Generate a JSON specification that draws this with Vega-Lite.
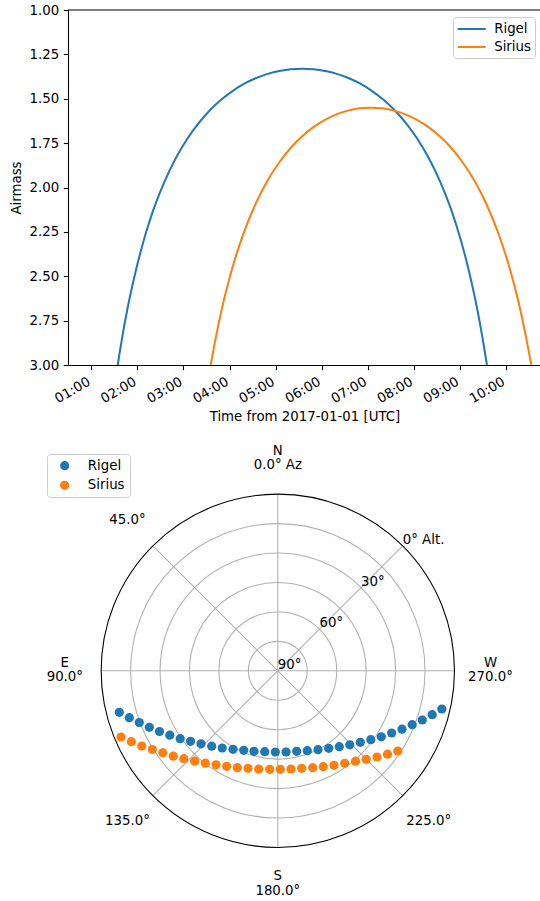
{
  "$schema": "https://vega.github.io/schema/vega-lite/v6.json",
  "padding": {"left": 9, "top": 3, "right": 0, "bottom": 0},
  "background": "white",
  "spacing": 75,
  "bounds": "flush",
  "config": {
    "view": {"stroke": null},
    "font": "DejaVu Sans",
    "axis": {"labelFont": "DejaVu Sans", "titleFont": "DejaVu Sans", "labelFontSize": 13.33, "titleFontSize": 13.33, "titleFontWeight": "normal", "labelColor": "#000", "titleColor": "#000", "domainColor": "#000", "tickColor": "#000", "domainWidth": 1.07, "tickWidth": 1.07, "tickSize": 4.67, "labelPadding": 4.67, "grid": false},
    "legend": {"labelFont": "DejaVu Sans", "labelFontSize": 13.33, "labelColor": "#000", "strokeColor": "#cccccc", "fillColor": "rgba(255,255,255,0.8)", "padding": 5, "cornerRadius": 3, "rowPadding": 5.7},
    "text": {"font": "DejaVu Sans", "fontSize": 13.33, "color": "#000"}
  },
  "resolve": {"scale": {"color": "independent"}, "legend": {"color": "independent"}},
  "vconcat": [
    {
      "width": 473,
      "height": 355,
      "layer": [
        {
          "data": {"values": [
            {"star": "Rigel", "t": 1.573, "airmass": 3.0}, {"star": "Rigel", "t": 1.63, "airmass": 2.907}, {"star": "Rigel", "t": 1.68, "airmass": 2.83}, {"star": "Rigel", "t": 1.78, "airmass": 2.689}, {"star": "Rigel", "t": 1.83, "airmass": 2.625}, {"star": "Rigel", "t": 1.98, "airmass": 2.453}, {"star": "Rigel", "t": 2.08, "airmass": 2.352}, {"star": "Rigel", "t": 2.18, "airmass": 2.261}, {"star": "Rigel", "t": 2.33, "airmass": 2.139}, {"star": "Rigel", "t": 2.48, "airmass": 2.035}, {"star": "Rigel", "t": 2.58, "airmass": 1.972}, {"star": "Rigel", "t": 2.83, "airmass": 1.837}, {"star": "Rigel", "t": 3.08, "airmass": 1.727}, {"star": "Rigel", "t": 3.33, "airmass": 1.637}, {"star": "Rigel", "t": 3.58, "airmass": 1.563}, {"star": "Rigel", "t": 3.83, "airmass": 1.503}, {"star": "Rigel", "t": 4.08, "airmass": 1.454}, {"star": "Rigel", "t": 4.33, "airmass": 1.414}, {"star": "Rigel", "t": 4.58, "airmass": 1.383}, {"star": "Rigel", "t": 4.83, "airmass": 1.36}, {"star": "Rigel", "t": 5.08, "airmass": 1.344}, {"star": "Rigel", "t": 5.33, "airmass": 1.334}, {"star": "Rigel", "t": 5.58, "airmass": 1.331}, {"star": "Rigel", "t": 5.83, "airmass": 1.334}, {"star": "Rigel", "t": 6.08, "airmass": 1.344}, {"star": "Rigel", "t": 6.33, "airmass": 1.36}, {"star": "Rigel", "t": 6.58, "airmass": 1.383}, {"star": "Rigel", "t": 6.83, "airmass": 1.414}, {"star": "Rigel", "t": 7.08, "airmass": 1.454}, {"star": "Rigel", "t": 7.33, "airmass": 1.503}, {"star": "Rigel", "t": 7.58, "airmass": 1.563}, {"star": "Rigel", "t": 7.83, "airmass": 1.637}, {"star": "Rigel", "t": 8.08, "airmass": 1.727}, {"star": "Rigel", "t": 8.33, "airmass": 1.837}, {"star": "Rigel", "t": 8.58, "airmass": 1.972}, {"star": "Rigel", "t": 8.68, "airmass": 2.035}, {"star": "Rigel", "t": 8.83, "airmass": 2.139}, {"star": "Rigel", "t": 8.98, "airmass": 2.261}, {"star": "Rigel", "t": 9.08, "airmass": 2.352}, {"star": "Rigel", "t": 9.18, "airmass": 2.453}, {"star": "Rigel", "t": 9.33, "airmass": 2.625}, {"star": "Rigel", "t": 9.38, "airmass": 2.689}, {"star": "Rigel", "t": 9.48, "airmass": 2.83}, {"star": "Rigel", "t": 9.53, "airmass": 2.907}, {"star": "Rigel", "t": 9.587, "airmass": 3.0},
            {"star": "Sirius", "t": 3.591, "airmass": 3.0}, {"star": "Sirius", "t": 3.67, "airmass": 2.888}, {"star": "Sirius", "t": 3.77, "airmass": 2.759}, {"star": "Sirius", "t": 3.87, "airmass": 2.642}, {"star": "Sirius", "t": 3.97, "airmass": 2.539}, {"star": "Sirius", "t": 4.07, "airmass": 2.445}, {"star": "Sirius", "t": 4.32, "airmass": 2.247}, {"star": "Sirius", "t": 4.57, "airmass": 2.09}, {"star": "Sirius", "t": 4.82, "airmass": 1.963}, {"star": "Sirius", "t": 5.07, "airmass": 1.862}, {"star": "Sirius", "t": 5.32, "airmass": 1.779}, {"star": "Sirius", "t": 5.57, "airmass": 1.713}, {"star": "Sirius", "t": 5.82, "airmass": 1.66}, {"star": "Sirius", "t": 6.07, "airmass": 1.619}, {"star": "Sirius", "t": 6.32, "airmass": 1.588}, {"star": "Sirius", "t": 6.57, "airmass": 1.567}, {"star": "Sirius", "t": 6.82, "airmass": 1.554}, {"star": "Sirius", "t": 7.07, "airmass": 1.55}, {"star": "Sirius", "t": 7.32, "airmass": 1.554}, {"star": "Sirius", "t": 7.57, "airmass": 1.567}, {"star": "Sirius", "t": 7.82, "airmass": 1.588}, {"star": "Sirius", "t": 8.07, "airmass": 1.619}, {"star": "Sirius", "t": 8.32, "airmass": 1.66}, {"star": "Sirius", "t": 8.57, "airmass": 1.713}, {"star": "Sirius", "t": 8.82, "airmass": 1.779}, {"star": "Sirius", "t": 9.07, "airmass": 1.862}, {"star": "Sirius", "t": 9.32, "airmass": 1.963}, {"star": "Sirius", "t": 9.57, "airmass": 2.09}, {"star": "Sirius", "t": 9.82, "airmass": 2.247}, {"star": "Sirius", "t": 10.07, "airmass": 2.445}, {"star": "Sirius", "t": 10.17, "airmass": 2.539}, {"star": "Sirius", "t": 10.27, "airmass": 2.642}, {"star": "Sirius", "t": 10.37, "airmass": 2.759}, {"star": "Sirius", "t": 10.47, "airmass": 2.888}, {"star": "Sirius", "t": 10.549, "airmass": 3.0}
          ]},
          "mark": {"type": "line", "strokeWidth": 2, "interpolate": "monotone", "clip": true},
          "encoding": {
            "x": {"field": "t", "type": "quantitative", "scale": {"domain": [0.494, 10.761], "nice": false, "zero": false},
                  "axis": {"values": [1, 2, 3, 4, 5, 6, 7, 8, 9, 10], "labelExpr": "(datum.value < 10 ? '0' : '') + datum.value + ':00'", "labelAngle": -30, "labelAlign": "right", "labelBaseline": "top", "labelOffset": -6, "labelFlush": false, "labelOverlap": false, "title": "Time from 2017-01-01 [UTC]", "titlePadding": 4}},
            "y": {"field": "airmass", "type": "quantitative", "scale": {"domain": [1, 3], "reverse": true, "nice": false, "zero": false},
                  "axis": {"values": [1, 1.25, 1.5, 1.75, 2, 2.25, 2.5, 2.75, 3], "format": ".2f", "title": "Airmass", "titlePadding": 5, "labelFlush": false}},
            "color": {"field": "star", "type": "nominal", "scale": {"domain": ["Rigel", "Sirius"], "range": ["#1f77b4", "#ff7f0e"]},
                      "legend": {"orient": "none", "legendX": 385, "legendY": 7, "title": null, "symbolType": "M-2,0H2", "symbolSize": 196, "symbolStrokeWidth": 2, "symbolOffset": 6.7, "labelOffset": 14.5, "padding": 4, "rowPadding": 3}}
          }
        },
        {
          "data": {"values": [{"a": 1}]},
          "mark": {"type": "rule", "color": "#000", "strokeWidth": 1.07},
          "encoding": {"y": {"field": "a", "type": "quantitative"}}
        }
      ]
    },
    {
      "width": 420,
      "height": 461,
      "layer": [
        {
          "data": {"values": [{"cx": 0, "cy": 0, "r": 15}, {"cx": 0, "cy": 0, "r": 30}, {"cx": 0, "cy": 0, "r": 45}, {"cx": 0, "cy": 0, "r": 60}, {"cx": 0, "cy": 0, "r": 75}]},
          "mark": {"type": "point", "shape": "circle", "filled": false, "stroke": "#b0b0b0", "strokeWidth": 1.07, "opacity": 1},
          "encoding": {
            "x": {"field": "cx", "type": "quantitative", "scale": {"domain": [-106.88, 107.08], "nice": false, "zero": false}, "axis": null},
            "y": {"field": "cy", "type": "quantitative", "scale": {"domain": [-117.27, 117.58], "nice": false, "zero": false}, "axis": null},
            "size": {"field": "r", "type": "quantitative", "scale": {"type": "pow", "exponent": 2, "domain": [0, 90], "range": [0, 124821]}, "legend": null}
          }
        },
        {
          "data": {"values": [
            {"cx": 0, "cy": 0, "ex": 0, "ey": 90}, {"cx": 0, "cy": 0, "ex": -63.64, "ey": 63.64}, {"cx": 0, "cy": 0, "ex": -90, "ey": 0}, {"cx": 0, "cy": 0, "ex": -63.64, "ey": -63.64},
            {"cx": 0, "cy": 0, "ex": 0, "ey": -90}, {"cx": 0, "cy": 0, "ex": 63.64, "ey": -63.64}, {"cx": 0, "cy": 0, "ex": 90, "ey": 0}, {"cx": 0, "cy": 0, "ex": 63.64, "ey": 63.64}
          ]},
          "mark": {"type": "rule", "color": "#b0b0b0", "strokeWidth": 1.07},
          "encoding": {
            "x": {"field": "cx", "type": "quantitative"},
            "y": {"field": "cy", "type": "quantitative"},
            "x2": {"field": "ex"},
            "y2": {"field": "ey"}
          }
        },
        {
          "data": {"values": [{"cx": 0, "cy": 0, "r": 90}]},
          "mark": {"type": "point", "shape": "circle", "filled": false, "stroke": "#000", "strokeWidth": 1.07, "opacity": 1},
          "encoding": {
            "x": {"field": "cx", "type": "quantitative"},
            "y": {"field": "cy", "type": "quantitative"},
            "size": {"field": "r", "type": "quantitative", "legend": null}
          }
        },
        {
          "data": {"values": [
            {"label": "90°", "x": 0, "y": 0}, {"label": "60°", "x": 21.21, "y": 21.21}, {"label": "30°", "x": 42.43, "y": 42.43}, {"label": "0° Alt.", "x": 63.64, "y": 63.64}
          ]},
          "mark": {"type": "text", "align": "left", "baseline": "bottom", "dy": 1},
          "encoding": {
            "x": {"field": "x", "type": "quantitative"},
            "y": {"field": "y", "type": "quantitative"},
            "text": {"field": "label"}
          }
        },
        {
          "data": {"values": [
            {"label": "N", "x": 0, "y": 112.2}, {"label": "0.0° Az", "x": 0, "y": 104.6},
            {"label": "45.0°", "x": -76.6, "y": 76.8},
            {"label": "E", "x": -108.5, "y": 4.1}, {"label": "90.0°", "x": -108.5, "y": -3.3},
            {"label": "135.0°", "x": -76.6, "y": -76.4},
            {"label": "S", "x": 0, "y": -104.5}, {"label": "180.0°", "x": 0, "y": -112.0},
            {"label": "225.0°", "x": 76.9, "y": -76.4},
            {"label": "W", "x": 108.35, "y": 4.1}, {"label": "270.0°", "x": 108.35, "y": -3.3}
          ]},
          "mark": {"type": "text", "align": "center", "baseline": "middle"},
          "encoding": {
            "x": {"field": "x", "type": "quantitative"},
            "y": {"field": "y", "type": "quantitative"},
            "text": {"field": "label"}
          }
        },
        {
          "data": {"values": [
            {"star": "Rigel", "x": -80.74, "y": -21.14}, {"star": "Rigel", "x": -75.65, "y": -23.89}, {"star": "Rigel", "x": -70.56, "y": -26.34}, {"star": "Rigel", "x": -65.46, "y": -28.78}, {"star": "Rigel", "x": -60.26, "y": -30.92}, {"star": "Rigel", "x": -55.02, "y": -32.81}, {"star": "Rigel", "x": -49.72, "y": -34.59}, {"star": "Rigel", "x": -44.47, "y": -35.91}, {"star": "Rigel", "x": -39.12, "y": -37.19}, {"star": "Rigel", "x": -33.67, "y": -38.41}, {"star": "Rigel", "x": -28.32, "y": -39.33}, {"star": "Rigel", "x": -22.82, "y": -39.99}, {"star": "Rigel", "x": -17.37, "y": -40.5}, {"star": "Rigel", "x": -12.12, "y": -41.01}, {"star": "Rigel", "x": -6.67, "y": -41.21}, {"star": "Rigel", "x": -1.27, "y": -41.37}, {"star": "Rigel", "x": 4.18, "y": -41.37}, {"star": "Rigel", "x": 9.63, "y": -41.01}, {"star": "Rigel", "x": 15.03, "y": -40.7}, {"star": "Rigel", "x": 20.48, "y": -40.19}, {"star": "Rigel", "x": 25.93, "y": -39.48}, {"star": "Rigel", "x": 31.33, "y": -38.67}, {"star": "Rigel", "x": 36.68, "y": -37.7}, {"star": "Rigel", "x": 42.03, "y": -36.42}, {"star": "Rigel", "x": 47.38, "y": -35.1}, {"star": "Rigel", "x": 52.73, "y": -33.62}, {"star": "Rigel", "x": 58.02, "y": -31.69}, {"star": "Rigel", "x": 63.27, "y": -29.75}, {"star": "Rigel", "x": 68.47, "y": -27.46}, {"star": "Rigel", "x": 73.61, "y": -25.06}, {"star": "Rigel", "x": 78.66, "y": -22.36}, {"star": "Rigel", "x": 83.55, "y": -19.46},
            {"star": "Sirius", "x": -79.88, "y": -33.72}, {"star": "Sirius", "x": -74.63, "y": -36.12}, {"star": "Sirius", "x": -69.28, "y": -38.31}, {"star": "Sirius", "x": -63.93, "y": -40.09}, {"star": "Sirius", "x": -58.58, "y": -41.77}, {"star": "Sirius", "x": -53.24, "y": -43.5}, {"star": "Sirius", "x": -47.89, "y": -44.78}, {"star": "Sirius", "x": -42.33, "y": -46.05}, {"star": "Sirius", "x": -36.93, "y": -47.07}, {"star": "Sirius", "x": -31.48, "y": -47.89}, {"star": "Sirius", "x": -26.03, "y": -48.65}, {"star": "Sirius", "x": -20.63, "y": -49.36}, {"star": "Sirius", "x": -15.18, "y": -49.67}, {"star": "Sirius", "x": -9.73, "y": -50.03}, {"star": "Sirius", "x": -4.13, "y": -50.18}, {"star": "Sirius", "x": 1.27, "y": -50.18}, {"star": "Sirius", "x": 6.72, "y": -50.03}, {"star": "Sirius", "x": 12.18, "y": -49.67}, {"star": "Sirius", "x": 17.78, "y": -49.36}, {"star": "Sirius", "x": 23.18, "y": -48.85}, {"star": "Sirius", "x": 28.63, "y": -48.14}, {"star": "Sirius", "x": 34.08, "y": -47.12}, {"star": "Sirius", "x": 39.58, "y": -46.05}, {"star": "Sirius", "x": 45.03, "y": -45.08}, {"star": "Sirius", "x": 50.53, "y": -43.91}, {"star": "Sirius", "x": 55.88, "y": -42.49}, {"star": "Sirius", "x": 61.13, "y": -40.86}
          ]},
          "mark": {"type": "point", "shape": "circle", "filled": true, "size": 85, "opacity": 1},
          "encoding": {
            "x": {"field": "x", "type": "quantitative"},
            "y": {"field": "y", "type": "quantitative"},
            "color": {"field": "star", "type": "nominal", "scale": {"domain": ["Rigel", "Sirius"], "range": ["#1f77b4", "#ff7f0e"]},
                      "legend": {"orient": "none", "legendX": -21, "legendY": 14, "title": null, "symbolType": "circle", "symbolSize": 85, "symbolOffset": 6, "labelOffset": 16.5}}
          }
        }
      ]
    }
  ]
}
